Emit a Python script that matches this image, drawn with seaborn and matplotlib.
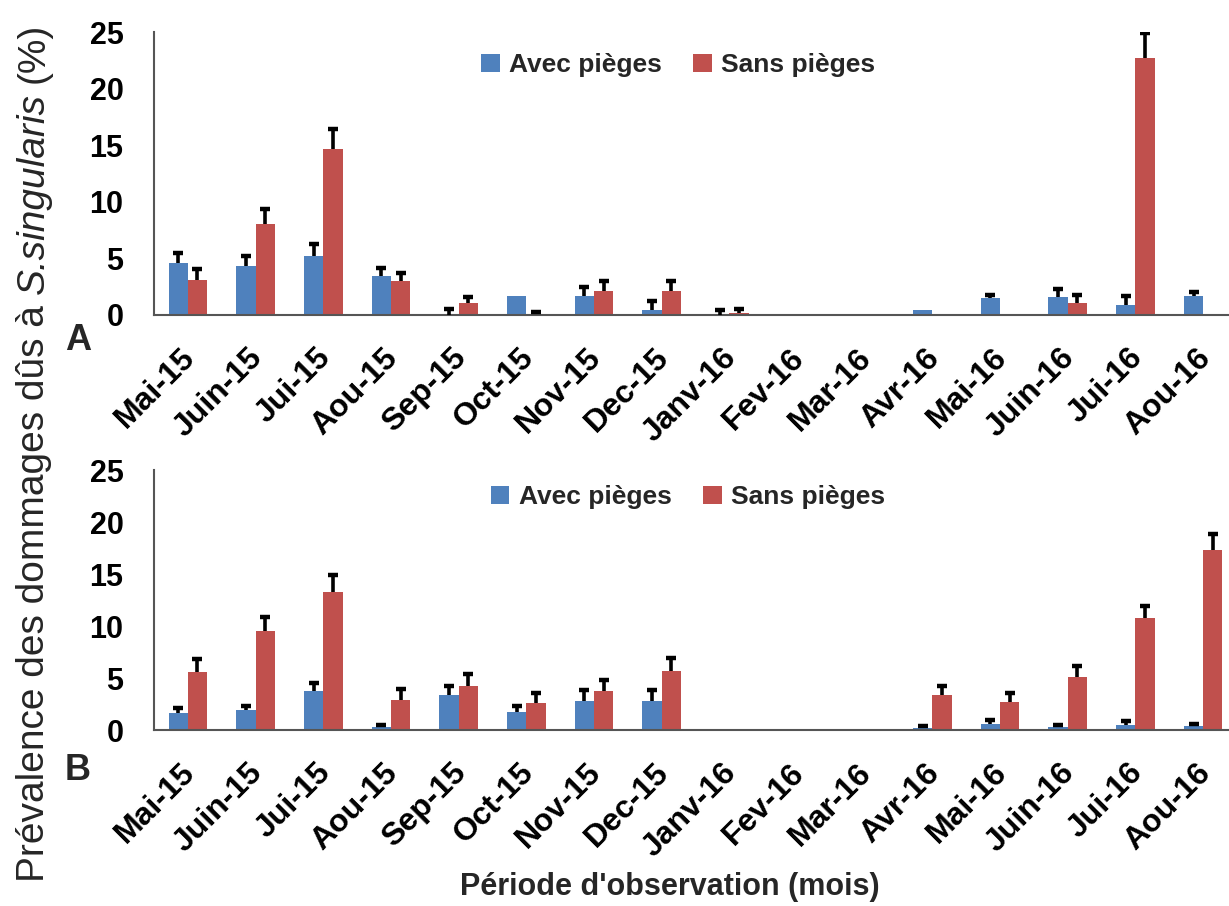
import numpy as np
import pandas as pd
import seaborn as sns
import matplotlib
matplotlib.use("Agg")
import matplotlib.pyplot as plt
import matplotlib.transforms as mtransforms
from matplotlib.ticker import FixedLocator

# ---------------- data ----------------
months = ["Mai-15", "Juin-15", "Jui-15", "Aou-15", "Sep-15", "Oct-15", "Nov-15", "Dec-15",
          "Janv-16", "Fev-16", "Mar-16", "Avr-16", "Mai-16", "Juin-16", "Jui-16", "Aou-16"]
groups = ["Avec pièges", "Sans pièges"]

a_avec = [4.6, 4.35, 5.25, 3.45, 0.0, 1.7, 1.7, 0.45, 0.0, 0.0, 0.0, 0.45, 1.5, 1.6, 0.9, 1.7]
a_avec_err = [0.9, 0.9, 1.0, 0.7, 0.5, 0.0, 0.8, 0.8, 0.45, 0.0, 0.0, 0.0, 0.3, 0.7, 0.8, 0.3]
a_sans = [3.1, 8.0, 14.7, 3.0, 1.1, 0.1, 2.1, 2.1, 0.2, 0.0, 0.0, 0.0, 0.0, 1.1, 22.7, 0.1]
a_sans_err = [1.0, 1.35, 1.7, 0.7, 0.5, 0.2, 0.9, 0.9, 0.3, 0.0, 0.0, 0.0, 0.0, 0.7, 2.25, 0.0]

b_avec = [1.6, 1.95, 3.75, 0.25, 3.4, 1.7, 2.8, 2.8, 0.0, 0.0, 0.0, 0.2, 0.6, 0.25, 0.5, 0.35]
b_avec_err = [0.5, 0.4, 0.8, 0.25, 0.8, 0.6, 1.0, 1.0, 0.0, 0.0, 0.0, 0.2, 0.4, 0.25, 0.4, 0.25]
b_sans = [5.6, 9.5, 13.3, 2.9, 4.25, 2.55, 3.75, 5.7, 0.0, 0.05, 0.0, 3.4, 2.65, 5.1, 10.8, 17.3]
b_sans_err = [1.2, 1.4, 1.6, 1.0, 1.1, 1.0, 1.1, 1.2, 0.0, 0.0, 0.0, 0.85, 0.9, 1.05, 1.1, 1.55]

y_ticks = [0, 5, 10, 15, 20, 25]
colors = ["#4F81BD", "#C0504D"]

# ---------------- style ----------------
sns.set_style("white")
plt.rcParams["font.family"] = ["Liberation Sans", "DejaVu Sans"]

W, H = 1229, 906
fig = plt.figure(figsize=(W / 100, H / 100), dpi=100)

x_left, x_right = 154, 1237


def make_panel(rect, avec, avec_err, sans, sans_err, leg_pos):
    ax = fig.add_axes(rect)
    df = pd.DataFrame({
        "Mois": months * 2,
        "Groupe": [groups[0]] * len(months) + [groups[1]] * len(months),
        "Valeur": list(avec) + list(sans),
    })
    sns.barplot(data=df, x="Mois", y="Valeur", hue="Groupe", order=months,
                hue_order=groups, palette=colors, width=0.57, gap=0,
                errorbar=None, linewidth=0, saturation=1, ax=ax)
    errs = [avec_err, sans_err]
    vals = [avec, sans]
    bar_conts = list(ax.containers)[:2]
    for k, cont in enumerate(bar_conts):
        xs, ys, tops = [], [], []
        for bar, v, e in zip(cont, vals[k], errs[k]):
            if e > 0:
                xs.append(bar.get_x() + bar.get_width() / 2)
                ys.append(v)
                tops.append(v + e)
        if xs:
            ax.vlines(xs, ys, tops, colors="black", linewidth=2.6, zorder=5)
            ax.plot(xs, tops, linestyle="none", marker="_", markersize=7.5,
                    markeredgewidth=3.2, color="black", zorder=6)
    ax.set_xlim(-0.5, len(months) - 0.5)
    ax.set_ylim(0, 25)
    ax.yaxis.set_major_locator(FixedLocator(y_ticks))
    ax.set_yticklabels([str(t) for t in y_ticks], fontsize=22, fontweight="bold")
    ax.set_xticks(range(len(months)))
    ax.set_xticklabels(months, rotation=45, ha="right", rotation_mode="anchor",
                       fontsize=23, fontweight="bold")
    ax.xaxis.set_minor_locator(FixedLocator(np.arange(-0.5, len(months), 1.0)))
    ax.tick_params(axis="x", which="major", length=0, pad=10)
    ax.tick_params(axis="x", which="minor", length=9, width=1.3, direction="out")
    ax.tick_params(axis="y", which="major", length=8, width=1.3, direction="out", pad=14)
    ax.tick_params(axis="both", which="both", color="#555555", labelcolor="black")
    # shift x tick labels slightly down and left (after tick_params, which resets transforms)
    off = mtransforms.ScaledTranslation(-8 / 100, -14 / 100, fig.dpi_scale_trans)
    for lab in ax.get_xticklabels():
        lab.set_transform(lab.get_transform() + off)
    for s in ["top", "right"]:
        ax.spines[s].set_visible(False)
    for s in ["left", "bottom"]:
        ax.spines[s].set_color("#555555")
        ax.spines[s].set_linewidth(1.5)
    ax.set_xlabel("")
    ax.set_ylabel("")
    ax.legend(loc="center", bbox_to_anchor=leg_pos, ncol=2, frameon=False,
              prop={"weight": "bold", "size": 19}, handlelength=0.7,
              handleheight=0.7, handletextpad=0.35, columnspacing=1.2)
    return ax


axA = make_panel([x_left / W, 1 - 315 / H, (x_right - x_left) / W, (315 - 32) / H],
                 a_avec, a_avec_err, a_sans, a_sans_err, (0.484, 0.883))
axB = make_panel([x_left / W, 1 - 730 / H, (x_right - x_left) / W, (730 - 470) / H],
                 b_avec, b_avec_err, b_sans, b_sans_err, (0.493, 0.896))

fig.text(78 / W, 1 - 341 / H, "A", fontsize=26, fontweight="bold", ha="center", va="center")
fig.text(78 / W, 1 - 771 / H, "B", fontsize=26, fontweight="bold", ha="center", va="center")

# y label built from pieces (italic species name)
renderer = fig.canvas.get_renderer()
ylab_size = 28
space_px = 0.278 * ylab_size * 100 / 72
pieces = [("Prévalence des dommages dûs à", "normal"),
          ("S.singularis", "italic"),
          ("(%)", "normal")]
y_cur = H - 882
x_base = 44
for txt, style in pieces:
    t = fig.text(x_base / W, y_cur / H, txt, rotation=90, rotation_mode="anchor",
                 ha="left", va="baseline", fontsize=ylab_size, fontstyle=style)
    bb = t.get_window_extent(renderer)
    y_cur += bb.height + space_px

fig.text(670 / W, 1 - 887 / H, "Période d'observation (mois)",
         fontsize=22, fontweight="bold", ha="center", va="center")

fig.savefig("out.png", dpi=100)
